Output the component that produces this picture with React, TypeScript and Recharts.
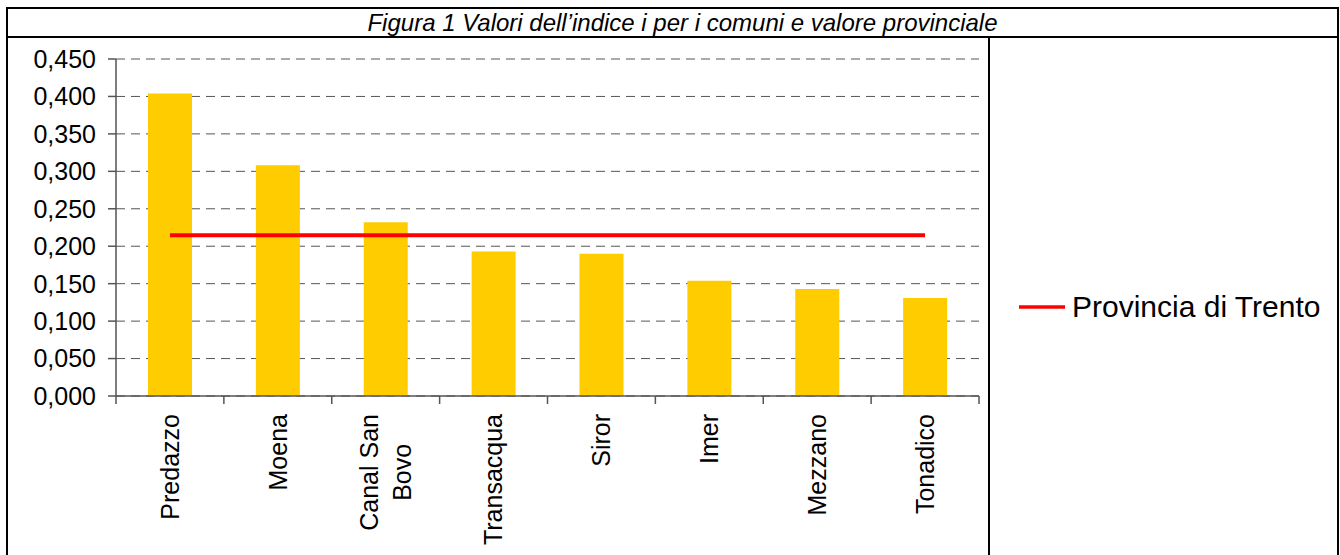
import React from 'react';
import { ComposedChart, Bar, Line, XAxis, YAxis, CartesianGrid, Legend } from 'recharts';

const categories = ['Predazzo', 'Moena', 'Canal San Bovo', 'Transacqua', 'Siror', 'Imer', 'Mezzano', 'Tonadico'];
const indexValues = [0.404, 0.308, 0.232, 0.193, 0.19, 0.154, 0.143, 0.131];
const provinciaValues = [0.2145, 0.2145, 0.2145, 0.2145, 0.2145, 0.2145, 0.2145, 0.2145];
const yTicks = [0, 0.05, 0.1, 0.15, 0.2, 0.25, 0.3, 0.35, 0.4, 0.45];

const FONT = '"Liberation Sans", Arial, sans-serif';
const CHART_W = 1340;
const CHART_H = 555;
const PLOT_LEFT = 116;
const PLOT_RIGHT = 979;
const BAND = (PLOT_RIGHT - PLOT_LEFT) / categories.length;
const AXIS_COLOR = '#555';
const LABEL_SIZE = 25;

const data = categories.map((name, i) => ({
  name,
  indice: indexValues[i],
  provincia: provinciaValues[i],
}));

const formatTick = (v: number) => v.toFixed(3).replace('.', ',');

// split long labels in two lines like the original
const wrapLabel = (text: string) => {
  if (text.length <= 10 || text.indexOf(' ') < 0) return [text];
  const cut = text.lastIndexOf(' ');
  return [text.slice(0, cut), text.slice(cut + 1)];
};

let ctx: CanvasRenderingContext2D | null = null;
const measure = (text: string) => {
  if (!ctx) ctx = document.createElement('canvas').getContext('2d');
  if (!ctx) return text.length * 12;
  ctx.font = `${LABEL_SIZE}px ${FONT}`;
  return ctx.measureText(text).width;
};

const CategoryTick = (props: any) => {
  const { x, y, payload, index } = props;
  const i = index ?? payload.index ?? 0;
  const half = BAND / 2;
  const lines = wrapLabel(String(payload.value));
  const top = y + 18;
  const lineGap = 33;
  let label;
  if (lines.length === 1) {
    label = (
      <text
        x={x}
        y={top}
        transform={`rotate(-90, ${x}, ${top})`}
        textAnchor="end"
        dy="0.35em"
        fontSize={LABEL_SIZE}
        fontFamily={FONT}
        fill="#000"
      >
        {lines[0]}
      </text>
    );
  } else {
    const maxW = Math.max(...lines.map(measure));
    const cy = top + maxW / 2;
    label = (
      <text
        x={x}
        y={cy}
        transform={`rotate(-90, ${x}, ${cy})`}
        textAnchor="middle"
        fontSize={LABEL_SIZE}
        fontFamily={FONT}
        fill="#000"
      >
        {lines.map((ln, k) => (
          <tspan
            key={k}
            x={x}
            dy={k === 0 ? `${0.35 - ((lines.length - 1) * lineGap) / 2 / LABEL_SIZE}em` : lineGap}
          >
            {ln}
          </tspan>
        ))}
      </text>
    );
  }
  return (
    <g>
      <line x1={x - half} y1={y} x2={x - half} y2={y + 8} stroke={AXIS_COLOR} strokeWidth={1.5} />
      {i === categories.length - 1 && (
        <line x1={x + half} y1={y} x2={x + half} y2={y + 8} stroke={AXIS_COLOR} strokeWidth={1.5} />
      )}
      {label}
    </g>
  );
};

const LegendContent = (props: any) => {
  const items = (props.payload || []).filter((p: any) => p.dataKey === 'provincia');
  return (
    <div style={{ fontFamily: FONT }}>
      {items.map((p: any) => (
        <div key={p.value} style={{ display: 'flex', alignItems: 'center', height: 36 }}>
          <svg width={48} height={8} style={{ marginRight: 5 }}>
            <line x1={0} y1={4} x2={46} y2={4} stroke={p.color} strokeWidth={3.5} />
          </svg>
          <span style={{ fontSize: 30, color: '#000', whiteSpace: 'nowrap' }}>{p.value}</span>
        </div>
      ))}
    </div>
  );
};

export default function App() {
  return (
    <div
      style={{
        position: 'absolute',
        left: 0,
        top: 0,
        width: CHART_W,
        height: CHART_H,
        overflow: 'hidden',
        background: '#fff',
      }}
    >
      <ComposedChart
        width={CHART_W}
        height={CHART_H}
        data={data}
        margin={{ top: 59, right: CHART_W - PLOT_RIGHT, bottom: 9, left: 0 }}
        style={{ position: 'absolute', left: 0, top: 0 }}
      >
        <CartesianGrid vertical={false} stroke="#555" strokeDasharray="9 6" />
        <YAxis
          width={PLOT_LEFT}
          domain={[0, 0.45]}
          ticks={yTicks}
          tickFormatter={formatTick}
          interval={0}
          axisLine={{ stroke: AXIS_COLOR, strokeWidth: 1.5 }}
          tickLine={{ stroke: AXIS_COLOR, strokeWidth: 1.5 }}
          tickSize={8}
          tickMargin={12}
          tick={{ fontSize: 25, fontFamily: FONT, fill: '#000' }}
        />
        <XAxis
          dataKey="name"
          height={150}
          interval={0}
          tickSize={0}
          tickMargin={0}
          tickLine={false}
          axisLine={{ stroke: AXIS_COLOR, strokeWidth: 1.5 }}
          tick={<CategoryTick />}
        />
        <Legend
          layout="horizontal"
          align="center"
          verticalAlign="middle"
          wrapperStyle={{ left: 1019, top: 289, width: 320 }}
          content={<LegendContent />}
        />
        <Bar dataKey="indice" name="Indice" fill="#FFCC00" barSize={44} isAnimationActive={false} legendType="none" />
        <Line
          dataKey="provincia"
          name="Provincia di Trento"
          type="linear"
          stroke="#FF0000"
          strokeWidth={4}
          dot={false}
          activeDot={false}
          legendType="plainline"
          isAnimationActive={false}
        />
      </ComposedChart>

      {/* frame of the figure */}
      <div
        style={{
          position: 'absolute',
          left: 6,
          top: 7,
          width: 1333,
          height: 600,
          border: '2px solid #000',
          boxSizing: 'border-box',
          pointerEvents: 'none',
        }}
      />
      <div style={{ position: 'absolute', left: 6, top: 36, width: 1333, height: 2, background: '#000' }} />
      <div style={{ position: 'absolute', left: 988, top: 36, width: 2, height: 600, background: '#000' }} />
      <div
        style={{
          position: 'absolute',
          left: 18,
          top: 9,
          width: 1329,
          height: 27,
          lineHeight: '27px',
          textAlign: 'center',
          fontFamily: FONT,
          fontStyle: 'italic',
          fontSize: 24,
          color: '#000',
        }}
      >
        Figura 1 Valori dell’indice i per i comuni e valore provinciale
      </div>
    </div>
  );
}
